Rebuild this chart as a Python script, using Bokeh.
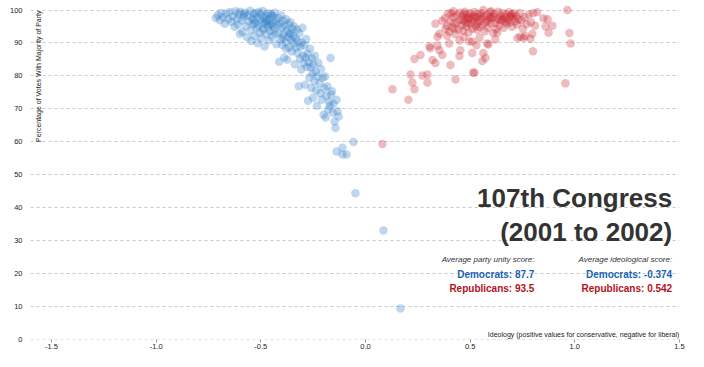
from bokeh.plotting import figure
from bokeh.models import Range1d, FixedTicker, NumeralTickFormatter, Label, ColumnDataSource
from bokeh.embed import file_html
from bokeh.resources import INLINE

# Democrats: (ideology, party unity %)
dem_x = [
    -0.715, -0.705, -0.695, -0.69, -0.68, -0.672, -0.665, -0.655, -0.648, -0.64, -0.632, -0.625, -0.62,
    -0.615, -0.61, -0.605, -0.598, -0.592, -0.588, -0.582, -0.576, -0.57, -0.566, -0.561, -0.556, -0.551,
    -0.547, -0.542, -0.538, -0.534, -0.53, -0.527, -0.524, -0.521, -0.6, -0.545, -0.535, -0.58,
    -0.518, -0.515, -0.512, -0.509, -0.506, -0.503, -0.5, -0.497, -0.494, -0.491, -0.488, -0.485, -0.482,
    -0.479, -0.476, -0.473, -0.47, -0.467, -0.464, -0.461, -0.458, -0.455, -0.452, -0.449, -0.446, -0.443,
    -0.44, -0.437, -0.434, -0.431, -0.428, -0.425, -0.422, -0.49, -0.475, -0.46, -0.445,
    -0.418, -0.415, -0.412, -0.409, -0.406, -0.403, -0.4, -0.397, -0.394, -0.391, -0.388, -0.385, -0.382,
    -0.379, -0.376, -0.373, -0.37, -0.367, -0.364, -0.361, -0.358, -0.355, -0.352, -0.349, -0.346, -0.343,
    -0.34, -0.395, -0.38, -0.36,
    -0.337, -0.334, -0.331, -0.328, -0.325, -0.322, -0.319, -0.316, -0.313, -0.31, -0.307, -0.304, -0.301,
    -0.298, -0.295, -0.292, -0.289, -0.286, -0.283, -0.28,
    -0.277, -0.274, -0.271, -0.268, -0.265, -0.262, -0.259, -0.256, -0.253, -0.25, -0.247, -0.244, -0.241,
    -0.238, -0.235, -0.232, -0.229, -0.225,
    -0.218, -0.215, -0.212, -0.208, -0.205, -0.2, -0.196, -0.192, -0.19, -0.186, -0.182, -0.178, -0.174,
    -0.17, -0.167, -0.164,
    -0.16, -0.156, -0.153, -0.148, -0.143, -0.138, -0.134, -0.128,
    -0.057, -0.138, -0.11, -0.11, -0.09, -0.048, 0.086, 0.167,
]
dem_y = [
    97.6, 98.4, 96.9, 99.1, 97.8, 95.8, 98.9, 97.2, 99.4, 96.4, 98.1, 94.9, 99.6,
    97.3, 95.6, 98.7, 99.5, 96.8, 93.4, 97.9, 99.2, 95.1, 91.8, 98.3, 96.5, 99.8,
    93.9, 97.4, 95.7, 98.9, 92.2, 96.1, 99.1, 94.6, 92.7, 90.6, 97.0, 98.6,
    97.8, 89.9, 95.3, 99.4, 93.1, 97.1, 98.6, 91.4, 96.2, 99.7, 94.4, 97.6, 88.9,
    95.8, 98.2, 92.6, 96.9, 99.0, 94.9, 90.7, 97.3, 93.6, 98.8, 96.0, 91.9, 95.2,
    97.9, 94.1, 99.2, 92.8, 96.6, 89.6, 95.5, 93.9, 96.5, 95.6, 98.3,
    97.5, 93.2, 84.3, 95.9, 91.1, 98.4, 94.6, 89.4, 96.8, 92.5, 85.6, 95.1, 90.3,
    97.2, 93.8, 84.9, 91.7, 95.7, 88.6, 93.0, 96.3, 90.9, 87.4, 94.2, 92.1, 89.8,
    95.0, 91.6, 88.2, 92.7,
    83.5, 91.4, 88.7, 94.1, 86.9, 90.5, 76.8, 92.9, 85.2, 88.9, 81.9, 90.1, 94.6,
    86.2, 83.8, 89.3, 77.3, 85.6, 91.2, 82.7,
    86.8, 72.4, 84.1, 79.5, 88.2, 82.6, 76.3, 85.3, 80.7, 73.3, 83.4, 78.3, 86.1,
    81.2, 75.6, 70.9, 79.8, 84.0,
    77.7, 74.7, 82.1, 72.7, 79.4, 68.2, 76.2, 79.8, 67.3, 73.9, 76.8, 69.7, 72.1,
    70.9, 85.4, 74.3,
    75.3, 68.8, 71.5, 66.1, 64.1, 72.7, 69.2, 67.6,
    59.9, 57.0, 58.1, 56.1, 56.1, 44.3, 33.0, 9.3,
]

# Republicans: (ideology, party unity %)
rep_x = [
    0.081, 0.129, 0.205, 0.215, 0.224, 0.234, 0.234, 0.263, 0.272, 0.296, 0.296, 0.306, 0.32, 0.334,
    0.344, 0.367, 0.353, 0.406, 0.43, 0.334, 0.367, 0.39, 0.382, 0.425, 0.449, 0.449, 0.453, 0.496,
    0.51, 0.52, 0.353, 0.4, 0.31, 0.344,
    0.38, 0.39, 0.395, 0.40, 0.405, 0.41, 0.415, 0.42, 0.425, 0.43, 0.435, 0.44, 0.445, 0.45, 0.455,
    0.46, 0.463, 0.467, 0.47, 0.474, 0.478, 0.482, 0.486, 0.49, 0.493, 0.497, 0.50, 0.503, 0.507, 0.51,
    0.514, 0.518, 0.522, 0.526, 0.53, 0.534, 0.538, 0.542, 0.546, 0.55, 0.555, 0.56, 0.565, 0.57, 0.575,
    0.58, 0.585, 0.59, 0.595, 0.60, 0.605, 0.61, 0.615, 0.62, 0.625, 0.63, 0.635, 0.64, 0.645, 0.65,
    0.655, 0.66, 0.665, 0.67, 0.675, 0.68, 0.685, 0.69, 0.695, 0.70, 0.705, 0.71, 0.715, 0.72, 0.725,
    0.73, 0.738, 0.745, 0.752, 0.76, 0.77, 0.78, 0.79, 0.80, 0.42, 0.47, 0.52, 0.55, 0.58, 0.61, 0.64,
    0.67, 0.70, 0.49, 0.535, 0.595, 0.655, 0.48, 0.60, 0.69,
    0.563, 0.582, 0.563, 0.573, 0.558, 0.51, 0.515, 0.63, 0.726, 0.74, 0.755, 0.763, 0.788, 0.80,
    0.81, 0.797, 0.82, 0.85, 0.86, 0.87, 0.875, 0.893, 0.955, 0.964, 0.974, 0.98, 0.587, 0.62, 0.545,
    0.47, 0.53,
]
rep_y = [
    59.3, 75.9, 72.7, 80.4, 78.0, 75.9, 85.1, 86.3, 80.1, 80.4, 78.0, 89.0, 84.8, 83.9,
    89.2, 86.3, 87.8, 83.3, 78.9, 95.8, 96.7, 92.2, 94.3, 94.3, 90.7, 86.0, 87.8, 90.4,
    86.9, 80.9, 92.8, 89.8, 88.4, 91.9,
    97.6, 95.2, 98.9, 93.4, 96.5, 99.0, 94.7, 97.8, 95.9, 92.6, 98.4, 96.3, 94.1, 99.2, 97.0,
    95.4, 98.1, 93.7, 96.7, 99.5, 97.5, 95.0, 98.6, 96.1, 93.2, 97.8, 99.1, 95.7, 97.2, 94.3,
    98.3, 96.4, 99.4, 95.1, 97.7, 93.9, 98.8, 96.6, 94.8, 97.3, 99.0, 95.5, 97.9, 93.5, 96.2,
    98.5, 94.6, 97.1, 99.3, 95.9, 97.6, 93.0, 98.9, 96.0, 94.2, 97.4, 99.5, 95.3, 98.1, 96.8,
    99.0, 94.6, 97.7, 98.6, 95.8, 97.0, 99.3, 96.2, 98.4, 94.9, 97.5, 99.0, 96.5, 98.1, 95.6,
    97.2, 99.1, 96.9, 94.3, 97.8, 95.7, 98.6, 96.3, 99.0, 99.6, 98.9, 97.9, 98.2, 96.8, 98.0, 97.0,
    96.4, 98.7, 97.4, 96.0, 97.9, 97.3, 96.0, 99.6, 97.9,
    100.0, 89.8, 86.9, 85.4, 84.5, 90.4, 81.0, 93.1, 91.5, 91.9, 91.5, 92.1, 91.3, 87.5,
    95.2, 92.8, 99.3, 97.5, 95.0, 97.2, 93.1, 95.2, 77.7, 100.0, 93.0, 89.8, 89.5, 91.0, 91.6,
    91.8, 89.3,
]

y_ticks = [0, 10, 20, 30, 40, 50, 60, 70, 80, 90, 100]
x_ticks = [-1.5, -1.0, -0.5, 0.0, 0.5, 1.0, 1.5]

title_lines = ["107th Congress", "(2001 to 2002)"]
unity_header = "Average party unity score:"
ideo_header = "Average ideological score:"
dem_unity, rep_unity = "87.7", "93.5"
dem_ideo, rep_ideo = "-0.374", "0.542"

FONT = "Liberation Sans"
BLUE_PT = "#2a7ac8"
RED_PT = "#c8202a"
BLUE_TX = "#1a5fb4"
RED_TX = "#b3121b"

p = figure(width=688, height=351, x_range=Range1d(-1.6, 1.5), y_range=Range1d(-0.15, 102.89),
           output_backend="svg", toolbar_location=None,
           min_border_left=30, min_border_right=9, min_border_top=0, min_border_bottom=0)
p.outline_line_color = None
p.background_fill_color = "white"

p.xgrid.visible = False
p.ygrid.ticker = FixedTicker(ticks=y_ticks)
p.ygrid.grid_line_color = "#c8c8c8"
p.ygrid.grid_line_dash = "3 3"
p.ygrid.grid_line_width = 1

p.yaxis.ticker = FixedTicker(ticks=y_ticks)
p.yaxis.axis_line_color = None
p.yaxis.major_tick_line_color = None
p.yaxis.minor_tick_line_color = None
p.yaxis.major_label_text_font = FONT
p.yaxis.major_label_text_font_size = "7.5px"
p.yaxis.major_label_text_color = "#222222"
p.yaxis.major_label_standoff = 2

p.xaxis.ticker = FixedTicker(ticks=x_ticks)
p.xaxis.formatter = NumeralTickFormatter(format="0.0")
p.xaxis.axis_line_color = None
p.xaxis.major_tick_line_color = "#999999"
p.xaxis.major_tick_out = 3
p.xaxis.major_tick_in = 0
p.xaxis.minor_tick_line_color = None
p.xaxis.major_label_text_font = FONT
p.xaxis.major_label_text_font_size = "7.5px"
p.xaxis.major_label_text_color = "#222222"
p.xaxis.major_label_standoff = 1

dem_src = ColumnDataSource(dict(x=dem_x, y=dem_y))
rep_src = ColumnDataSource(dict(x=rep_x, y=rep_y))
p.scatter("x", "y", source=dem_src, size=8.5, fill_color=BLUE_PT, fill_alpha=0.3, line_color=None)
p.scatter("x", "y", source=rep_src, size=8.5, fill_color=RED_PT, fill_alpha=0.3, line_color=None)

def lab(x, y, text, size, color="#333333", style="normal", align="right", angle=0.0, baseline="alphabetic"):
    p.add_layout(Label(x=x, y=y, text=text, text_font=FONT, text_font_size=size,
                       text_color=color, text_font_style=style, text_align=align,
                       text_baseline=baseline, angle=angle))

lab(1.465, 43.0, title_lines[0], "26px", style="bold")
lab(1.465, 32.4, title_lines[1], "26px", style="bold")
lab(0.807, 24.1, unity_header, "8px", style="italic")
lab(1.465, 24.1, ideo_header, "8px", style="italic")
lab(0.807, 19.7, "Democrats: " + dem_unity, "10px", color=BLUE_TX, style="bold")
lab(0.807, 15.45, "Republicans: " + rep_unity, "10px", color=RED_TX, style="bold")
lab(1.465, 19.7, "Democrats: " + dem_ideo, "10px", color=BLUE_TX, style="bold")
lab(1.465, 15.45, "Republicans: " + rep_ideo, "10px", color=RED_TX, style="bold")
lab(1.499, 1.5, "Ideology (positive values for conservative, negative for liberal)", "7px", color="#222222")
lab(-1.563, 99.85, "Percentage of Votes With Majority of Party", "7px", color="#222222",
    angle=1.5707963, baseline="middle")

open("out.html", "w").write(file_html(p, INLINE))
